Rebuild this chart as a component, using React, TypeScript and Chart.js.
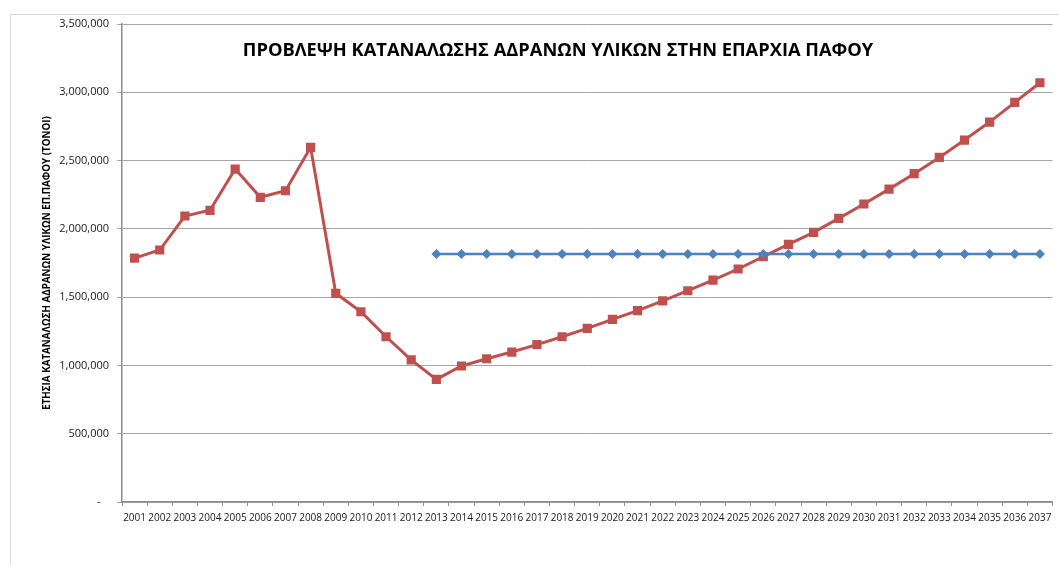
import React, { useEffect, useRef } from 'react';
import { Chart, registerables } from 'chart.js';

Chart.register(...registerables);

const years = [
  '2001', '2002', '2003', '2004', '2005', '2006', '2007', '2008', '2009', '2010',
  '2011', '2012', '2013', '2014', '2015', '2016', '2017', '2018', '2019', '2020',
  '2021', '2022', '2023', '2024', '2025', '2026', '2027', '2028', '2029', '2030',
  '2031', '2032', '2033', '2034', '2035', '2036', '2037',
];

const consumption = [
  1786000, 1845000, 2094000, 2136000, 2438000, 2231000, 2279000, 2597000, 1528000, 1393000,
  1210000, 1040000, 898000, 996000, 1049000, 1098000, 1152000, 1210000, 1271000, 1337000,
  1401000, 1472000, 1547000, 1625000, 1706000, 1796000, 1886000, 1974000, 2077000, 2182000,
  2291000, 2404000, 2523000, 2650000, 2782000, 2926000, 3070000,
];

const capacity = [
  null, null, null, null, null, null, null, null, null, null,
  null, null, 1816000, 1816000, 1816000, 1816000, 1816000, 1816000, 1816000, 1816000,
  1816000, 1816000, 1816000, 1816000, 1816000, 1816000, 1816000, 1816000, 1816000, 1816000,
  1816000, 1816000, 1816000, 1816000, 1816000, 1816000, 1816000,
];

const yMin = 0;
const yMax = 3500000;
const yStep = 500000;

const TITLE = 'ΠΡΟΒΛΕΨΗ ΚΑΤΑΝΑΛΩΣΗΣ ΑΔΡΑΝΩΝ ΥΛΙΚΩΝ ΣΤΗΝ ΕΠΑΡΧΙΑ ΠΑΦΟΥ';
const Y_TITLE = 'ΕΤΗΣΙΑ ΚΑΤΑΝΑΛΩΣΗ ΑΔΡΑΝΩΝ ΥΛΙΚΩΝ ΕΠ.ΠΑΦΟΥ (ΤΟΝΟΙ)';

const FONT = "'Open Sans', 'DejaVu Sans', sans-serif";

const framePlugin = {
  id: 'frameAndTitle',
  beforeDraw(chart: any) {
    const ctx = chart.ctx;
    ctx.save();
    ctx.fillStyle = '#ffffff';
    ctx.fillRect(0, 0, chart.width, chart.height);
    ctx.strokeStyle = '#d9d9d9';
    ctx.lineWidth = 1;
    ctx.beginPath();
    ctx.moveTo(10.5, chart.height);
    ctx.lineTo(10.5, 14.5);
    ctx.lineTo(chart.width, 14.5);
    ctx.stroke();
    ctx.restore();
  },
  afterDraw(chart: any) {
    const ctx = chart.ctx;
    ctx.save();
    ctx.fillStyle = '#000000';
    ctx.font = `bold 18.3px ${FONT}`;
    ctx.textAlign = 'center';
    ctx.textBaseline = 'middle';
    ctx.fillText(TITLE, 558, 51);
    ctx.restore();
  },
};

export default function App() {
  const ref = useRef<HTMLCanvasElement | null>(null);

  useEffect(() => {
    if (!ref.current) return;
    const chart = new Chart(ref.current, {
      type: 'line',
      data: {
        labels: years,
        datasets: [
          {
            label: 'Κατανάλωση',
            data: consumption,
            borderColor: '#C0504D',
            backgroundColor: '#C0504D',
            borderWidth: 3,
            pointStyle: 'rect',
            pointRadius: 6.5,
            pointBorderWidth: 0,
            pointBackgroundColor: '#C0504D',
            tension: 0,
            order: 1,
          },
          {
            label: 'Παραγωγή',
            data: capacity,
            borderColor: '#4F81BD',
            backgroundColor: '#4F81BD',
            borderWidth: 2.5,
            pointStyle: 'rectRot',
            pointRadius: 5,
            pointBorderWidth: 0,
            pointBackgroundColor: '#4F81BD',
            tension: 0,
            spanGaps: false,
            order: 0,
          },
        ],
      },
      options: {
        responsive: false,
        animation: false,
        layout: { padding: { top: 24, right: 2, left: 0, bottom: 0 } },
        plugins: {
          legend: { display: false },
          tooltip: { enabled: false },
          title: { display: false },
        },
        scales: {
          x: {
            offset: true,
            grid: {
              offset: true,
              drawOnChartArea: false,
              drawTicks: true,
              tickLength: 4,
              color: '#8c8c8c',
            },
            border: { color: '#8c8c8c', width: 1.5 },
            ticks: {
              autoSkip: false,
              maxRotation: 0,
              minRotation: 0,
              padding: 6,
              color: '#1a1a1a',
              font: { family: FONT, size: 10 },
            },
            afterFit(scale: any) {
              scale.height = 63;
            },
          },
          y: {
            min: yMin,
            max: yMax,
            ticks: {
              stepSize: yStep,
              padding: 8,
              color: '#1a1a1a',
              font: { family: FONT, size: 11 },
              callback: (v: any) => (Number(v) === 0 ? '-   ' : Number(v).toLocaleString('en-US')),
            },
            grid: {
              color: '#a6a6a6',
              tickLength: 5,
              lineWidth: 1,
            },
            border: { color: '#8c8c8c', width: 1.5 },
            title: {
              display: true,
              text: Y_TITLE,
              color: '#000000',
              font: { family: FONT, size: 9.8, weight: 'bold' },
              padding: { top: 41, bottom: 0 },
            },
            afterFit(scale: any) {
              scale.width = 122;
            },
          },
        },
      },
      plugins: [framePlugin],
    });
    return () => chart.destroy();
  }, []);

  return (
    <div style={{ position: 'absolute', left: 0, top: 0, width: 1059, height: 565 }}>
      <canvas ref={ref} width={1059} height={565} style={{ width: 1059, height: 565 }} />
    </div>
  );
}
